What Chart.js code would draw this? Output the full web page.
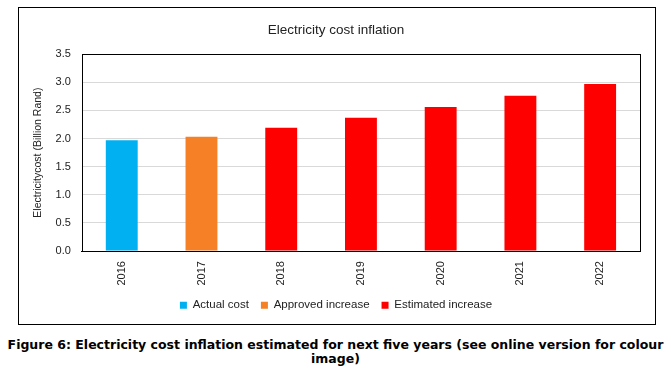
<!DOCTYPE html>
<html>
<head>
<meta charset="utf-8">
<script src="https://cdn.jsdelivr.net/npm/chart.js@4"></script>
<style>
  body { margin: 0; background: #fff; width: 671px; height: 374px; position: relative; overflow: hidden; }
  #box { position: absolute; left: 18px; top: 7px; width: 636px; height: 316px; border: 1px solid #000; }
  #caption { position: absolute; left: 0; top: 338px; width: 671px; text-align: center;
    font-family: "DejaVu Sans", sans-serif; font-weight: bold; font-size: 12.5px; line-height: 14px; color: #000; }
</style>
</head>
<body>
<div id="box"><canvas id="chart" width="636" height="316"></canvas></div>
<div id="caption">Figure 6: Electricity cost inflation estimated for next five years (see online version for colour<br>image)</div>
<script>
// categories and values
const years = ['2016', '2017', '2018', '2019', '2020', '2021', '2022'];
const actualCost = [1.97, null, null, null, null, null, null];
const approvedIncrease = [null, 2.03, null, null, null, null, null];
const estimatedIncrease = [null, null, 2.19, 2.37, 2.56, 2.76, 2.97];

// draws the black frame round the plot area
const plotFrame = {
    id: 'plotFrame',
    afterDraw(chart) {
        const a = chart.chartArea;
        const ctx = chart.ctx;
        ctx.save();
        ctx.strokeStyle = '#000';
        ctx.lineWidth = 1;
        ctx.strokeRect(Math.round(a.left) + 0.5, Math.round(a.top) + 0.5, Math.round(a.right - a.left), Math.round(a.bottom - a.top));
        ctx.restore();
    }
};

const font = 'Liberation Sans, Arial, sans-serif';

new Chart(document.getElementById('chart'), {
    type: 'bar',
    data: {
        labels: years,
        datasets: [
            { label: 'Actual cost', data: actualCost, backgroundColor: '#00b0f0' },
            { label: 'Approved increase', data: approvedIncrease, backgroundColor: '#f58025' },
            { label: 'Estimated increase', data: estimatedIncrease, backgroundColor: '#ff0000' }
        ]
    },
    options: {
        responsive: false,
        animation: false,
        layout: { padding: { left: 13, right: 15, top: 8, bottom: 3 } },
        datasets: { bar: { barPercentage: 0.4, categoryPercentage: 1 } },
        plugins: {
            title: {
                display: true,
                text: 'Electricity cost inflation',
                color: '#222',
                font: { family: font, size: 13.5, weight: 'normal' },
                padding: { top: 6, bottom: 16 }
            },
            legend: {
                position: 'bottom',
                labels: {
                    boxWidth: 7, boxHeight: 7, padding: 12,
                    color: '#222',
                    font: { family: font, size: 11.5 }
                }
            },
            tooltip: { enabled: false }
        },
        scales: {
            x: {
                stacked: true,
                grid: { display: false },
                border: { color: '#000' },
                ticks: { minRotation: 90, maxRotation: 90, padding: 2, color: '#222', font: { family: font, size: 11 } }
            },
            y: {
                stacked: true,
                min: 0, max: 3.5,
                grid: { color: '#d9d9d9', drawTicks: false },
                border: { display: false },
                ticks: {
                    stepSize: 0.5, padding: 11, color: '#222',
                    font: { family: font, size: 11 },
                    callback: v => v.toFixed(1)
                },
                title: {
                    display: true,
                    text: 'Electricitycost (Billion Rand)',
                    color: '#222',
                    font: { family: font, size: 10.5 },
                    padding: { top: 0, bottom: 0 }
                }
            }
        }
    },
    plugins: [plotFrame]
});
</script>
</body>
</html>
